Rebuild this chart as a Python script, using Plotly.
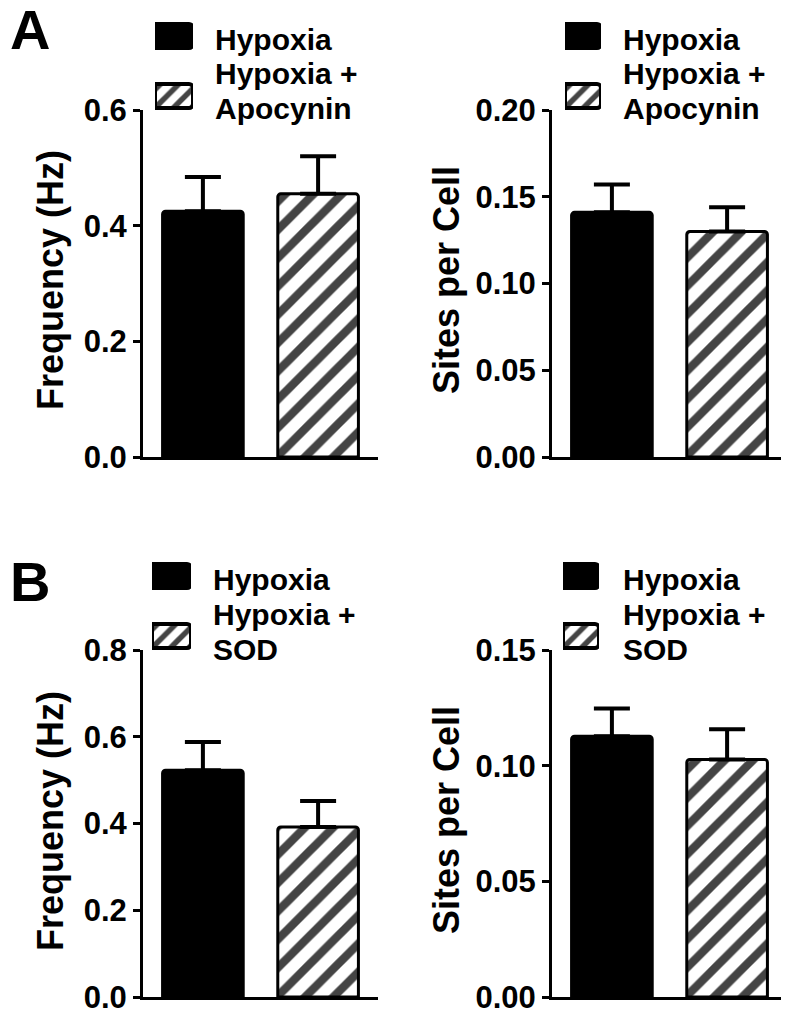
import plotly.graph_objects as go

W, H = 789, 1015
OFF = 8  # the page body adds an 8px margin round the figure

# data
groups = ["Hypoxia", "Hypoxia + drug"]

freq_apocynin = [0.425, 0.455]
freq_apocynin_err = [0.059, 0.065]
sites_apocynin = [0.141, 0.130]
sites_apocynin_err = [0.016, 0.014]

freq_sod = [0.523, 0.392]
freq_sod_err = [0.065, 0.060]
sites_sod = [0.1127, 0.1027]
sites_sod_err = [0.012, 0.013]

swatch_len = [1, 1]
swatch_pos = [0, 1]

FONT = "Liberation Sans, Arial, Helvetica, sans-serif"


def px_x(p):
    return (p - OFF) / W


def px_y(p):
    return 1 - (p - OFF) / H


fig = go.Figure()

panels = [
    (freq_apocynin, freq_apocynin_err, ""),
    (sites_apocynin, sites_apocynin_err, "2"),
    (freq_sod, freq_sod_err, "3"),
    (sites_sod, sites_sod_err, "4"),
]

for vals, errs, ax in panels:
    fig.add_trace(go.Bar(
        x=groups, y=vals,
        xaxis="x" + ax, yaxis="y" + ax,
        width=0.7,
        marker=dict(color=["black", "white"],
                    line=dict(color="black", width=3),
                    pattern=dict(shape=["", "/"], fillmode="overlay", fgcolor="black",
                                 fgopacity=1, bgcolor="white", size=20, solidity=0.42),
                    cornerradius=3),
        error_y=dict(type="data", array=errs, arrayminus=[0, 0], symmetric=False,
                     color="black", thickness=4, width=18),
        showlegend=False,
    ))

# legend swatches drawn as bars on small hidden axes
for ax in ["5", "6", "7", "8"]:
    fig.add_trace(go.Bar(
        x=swatch_len, y=swatch_pos, orientation="h",
        xaxis="x" + ax, yaxis="y" + ax,
        width=0.4, cliponaxis=False,
        marker=dict(color=["black", "white"],
                    line=dict(color="black", width=4),
                    pattern=dict(shape=["", "/"], fillmode="overlay", fgcolor="black",
                                 fgopacity=1, bgcolor="white", size=13, solidity=0.42),
                    cornerradius=4),
        showlegend=False,
    ))

yax = dict(showline=True, linewidth=3, linecolor="black", ticks="outside", ticklen=7,
           tickwidth=3, tickcolor="black", showgrid=False, zeroline=False, automargin=False,
           tickfont=dict(family=FONT, size=31, color="black", weight="bold"))
xax = dict(showline=True, linewidth=3, linecolor="black", ticks="", showticklabels=False,
           showgrid=False, zeroline=False, automargin=False, range=[-0.52, 1.52])

top_y = [px_y(457), px_y(110)]
bot_y = [px_y(997), px_y(650)]

layout = dict(
    template="none",
    width=W, height=H,
    margin=dict(l=0, r=0, t=0, b=0, pad=0, autoexpand=False),
    paper_bgcolor="white", plot_bgcolor="rgba(0,0,0,0)",
    font=dict(family=FONT, color="black", weight="bold"),
    showlegend=False,
    xaxis=dict(xax, domain=[px_x(143), px_x(378)], anchor="y"),
    yaxis=dict(yax, domain=top_y, range=[0, 0.6], dtick=0.2, tickformat=".1f", anchor="x"),
    xaxis2=dict(xax, domain=[px_x(552), px_x(787)], anchor="y2"),
    yaxis2=dict(yax, domain=top_y, range=[0, 0.2], dtick=0.05, tickformat=".2f", anchor="x2"),
    xaxis3=dict(xax, domain=[px_x(143), px_x(378)], anchor="y3"),
    yaxis3=dict(yax, domain=bot_y, range=[0, 0.8], dtick=0.2, tickformat=".1f", anchor="x3"),
    xaxis4=dict(xax, domain=[px_x(552), px_x(787)], anchor="y4"),
    yaxis4=dict(yax, domain=bot_y, range=[0, 0.15], dtick=0.05, tickformat=".2f", anchor="x4"),
)

# swatch axes: (x left, x right, y centre of first swatch)
sw = {"5": (155, 193, 36), "6": (565, 601, 36), "7": (152, 191, 576), "8": (563, 599, 576)}
step, pad = 60, 20
for ax, (x0, x1, yc) in sw.items():
    layout["xaxis" + ax] = dict(domain=[px_x(x0), px_x(x1)], range=[0, 1], visible=False,
                                automargin=False, anchor="y" + ax)
    layout["yaxis" + ax] = dict(domain=[px_y(yc + step + pad), px_y(yc - pad)],
                                range=[1 + pad / step, -pad / step], visible=False,
                                automargin=False, anchor="x" + ax)

fig.update_layout(layout)

ann = []


def text(x, y, s, size, **kw):
    d = dict(x=px_x(x), y=px_y(y), xref="paper", yref="paper", text=s, showarrow=False,
             font=dict(family=FONT, size=size, color="black", weight="bold"))
    d.update(kw)
    ann.append(d)


# panel letters
text(OFF, 29, "A", 56, xanchor="left", yanchor="middle")
text(OFF, 581, "B", 56, xanchor="left", yanchor="middle")

# axis titles
text(50, 280, "Frequency (Hz)", 36, textangle=-90, xanchor="center", yanchor="middle")
text(446, 280, "Sites per Cell", 36, textangle=-90, xanchor="center", yanchor="middle")
text(50, 821, "Frequency (Hz)", 36, textangle=-90, xanchor="center", yanchor="middle")
text(446, 820, "Sites per Cell", 36, textangle=-90, xanchor="center", yanchor="middle")

# legend texts
for lx, ly, second in [(213, 39, "Apocynin"), (621, 39, "Apocynin"),
                       (211, 579, "SOD"), (621, 579, "SOD")]:
    text(lx, ly, "Hypoxia", 30, xanchor="left", yanchor="middle")
    text(lx, ly + 35, "Hypoxia +", 30, xanchor="left", yanchor="middle")
    text(lx, ly + 70, second, 30, xanchor="left", yanchor="middle")

fig.update_layout(annotations=ann)

fig.write_html("out.html")
